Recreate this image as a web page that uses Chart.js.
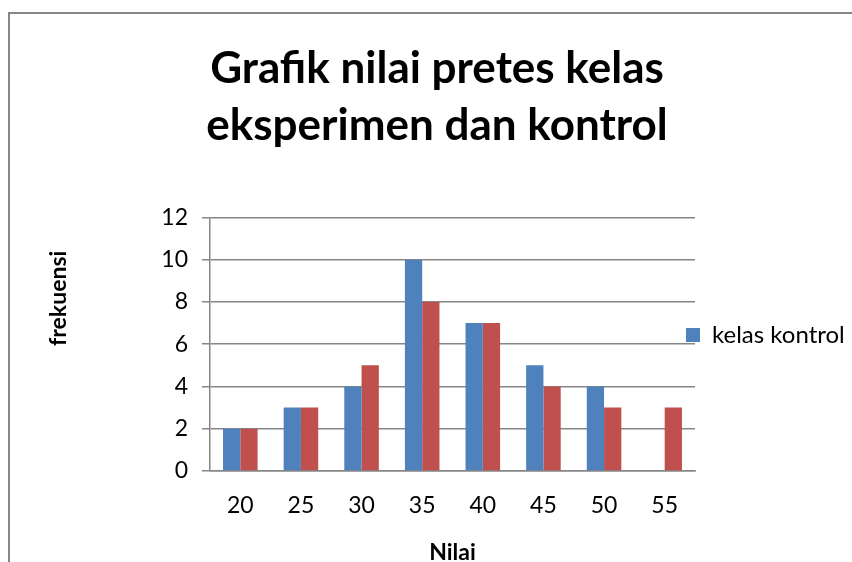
<!DOCTYPE html>
<html>
<head>
<meta charset="utf-8">
<script src="https://cdn.jsdelivr.net/npm/chart.js@4.4.0/dist/chart.umd.min.js"></script>
<style>
  html, body { margin: 0; padding: 0; background: #ffffff; }
  #wrap { position: relative; width: 852px; height: 562px; }
</style>
</head>
<body>
<div id="wrap"><canvas id="c" width="852" height="562"></canvas></div>
<script>
const categories = ["20", "25", "30", "35", "40", "45", "50", "55"];
const kelasKontrol = [2, 3, 4, 10, 7, 5, 4, null];
const kelasEksperimen = [2, 3, 5, 8, 7, 4, 3, 3];
const seriesNames = ["kelas kontrol", "kelas eksperimen"];
const titleLines = ["Grafik nilai pretes kelas", "eksperimen dan kontrol"];
const yTicksMin = 0, yTicksMax = 12, yTicksStep = 2;
const xAxisTitle = "Nilai";
const yAxisTitle = "frekuensi";

const FONT = "Lato, 'Open Sans', sans-serif";
const GRID = "#868686";

const framePlugin = {
  id: "frame",
  beforeDraw(chart) {
    const ctx = chart.ctx;
    ctx.save();
    ctx.fillStyle = "#ffffff";
    ctx.fillRect(0, 0, chart.width, chart.height);
    ctx.strokeStyle = GRID;
    ctx.lineWidth = 2;
    ctx.beginPath();
    ctx.moveTo(9, chart.height);
    ctx.lineTo(9, 13);
    ctx.lineTo(chart.width, 13);
    ctx.stroke();
    ctx.restore();
  }
};

const legendShift = {
  id: "legendShift",
  afterLayout(chart) {
    const l = chart.legend;
    if (!l) return;
    const dx = -19, dy = 48;
    l.left += dx;
    l.top += dy; l.bottom += dy;
  }
};

new Chart(document.getElementById("c"), {
  type: "bar",
  data: {
    labels: categories,
    datasets: [
      { label: seriesNames[0], data: kelasKontrol, backgroundColor: "#4F81BD", borderWidth: 0 },
      { label: seriesNames[1], data: kelasEksperimen, backgroundColor: "#C0504D", borderWidth: 0 }
    ]
  },
  options: {
    responsive: false,
    animation: false,
    devicePixelRatio: 1,
    layout: { padding: { left: 22, top: 12, right: 0, bottom: 0 } },
    datasets: { bar: { categoryPercentage: 0.57, barPercentage: 1.0 } },
    plugins: {
      title: {
        display: true,
        text: titleLines,
        color: "#000000",
        font: { family: FONT, size: 44, weight: "bold", lineHeight: 1.3 },
        padding: { top: 28, bottom: 63 }
      },
      legend: {
        position: "right",
        maxWidth: 157,
        labels: {
          boxWidth: 14,
          boxHeight: 14,
          padding: 10,
          color: "#000000",
          font: { family: FONT, size: 24 },
          filter: (item) => item.datasetIndex === 0
        }
      },
      tooltip: { enabled: false }
    },
    scales: {
      x: {
        grid: { display: true, drawOnChartArea: false, drawTicks: false },
        border: { display: true, color: GRID, width: 1.5 },
        ticks: { color: "#000000", font: { family: FONT, size: 23 }, padding: 21, maxRotation: 0 },
        title: {
          display: true, text: xAxisTitle, color: "#000000",
          font: { family: FONT, size: 23, weight: "bold" },
          padding: { top: 0, bottom: -4 }
        },
        afterFit: (s) => { s.height = 91; }
      },
      y: {
        min: yTicksMin, max: yTicksMax,
        ticks: { stepSize: yTicksStep, color: "#000000", font: { family: FONT, size: 23 }, padding: 14 },
        grid: { color: GRID, lineWidth: 1.5, tickLength: 8, drawTicks: true },
        border: { display: true, color: GRID, width: 1.5 },
        title: {
          display: true, text: "\u2003\u2003\u2003\u2003\u2003 " + yAxisTitle, color: "#000000",
          font: { family: FONT, size: 23, weight: "bold" },
          padding: { top: 23, bottom: 0 }
        },
        afterFit: (s) => { s.width = 188; }
      }
    }
  },
  plugins: [framePlugin, legendShift]
});
</script>
</body>
</html>
